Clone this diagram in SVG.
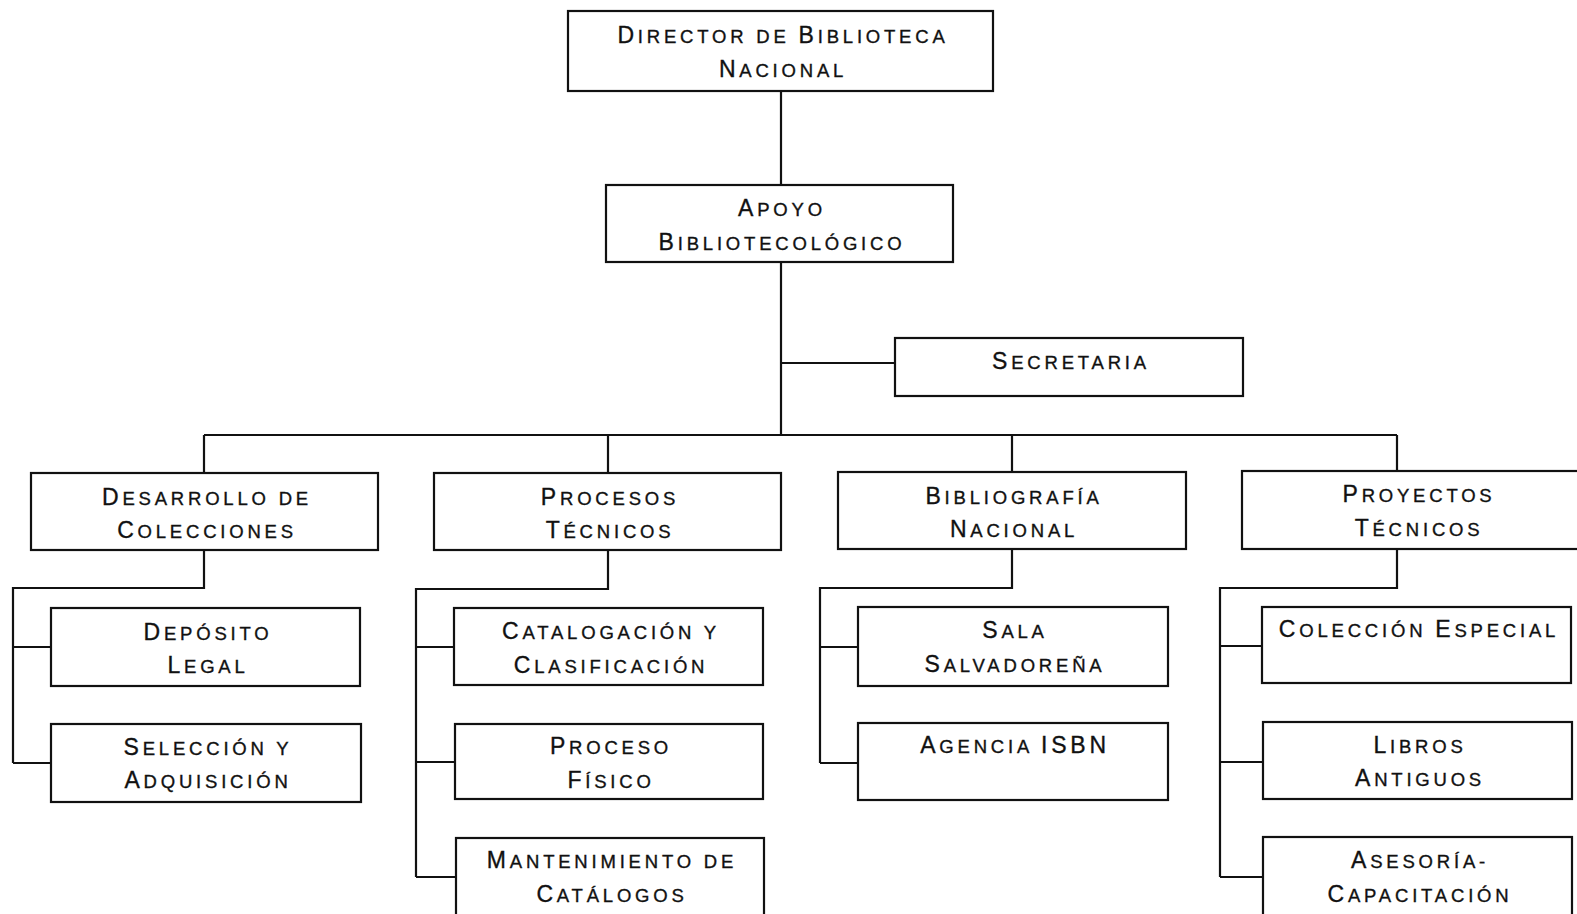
<svg xmlns="http://www.w3.org/2000/svg" width="1577" height="914" viewBox="0 0 1577 914">
<style>
.box{fill:#fff;stroke:#111;stroke-width:2.2}
.lbl{font-family:"Liberation Sans",Arial,sans-serif;font-size:18.5px;letter-spacing:3.8px;text-anchor:middle;fill:#111;stroke:#111;stroke-width:0.35}
.c{font-size:23px}
.con{fill:none;stroke:#111;stroke-width:2.2}
</style>
<rect width="1577" height="914" fill="#fff"/>
<g id="connectors" class="con">
<path d="M781,91V185M781,262V435M781,363H895"/>
<path d="M204,435H1397M204,435V473M608,435V473M1012,435V472M1397,435V471"/>
<path d="M204,550V588H13V763M13,647H51M13,763H51"/>
<path d="M608,550V589H416V877M416,647H454M416,762H455M416,877H456"/>
<path d="M1012,549V588H820V763M820,647H858M820,763H858"/>
<path d="M1397,549V588H1220V877M1220,646H1262M1220,762H1263M1220,877H1263"/>
</g>
<g id="director"><rect class="box" x="568" y="11" width="425" height="80"/><text class="lbl" x="783" y="43"><tspan class="c">D</tspan>IRECTOR DE <tspan class="c">B</tspan>IBLIOTECA</text><text class="lbl" x="783" y="77"><tspan class="c">N</tspan>ACIONAL</text></g>
<g id="apoyo"><rect class="box" x="606" y="185" width="347" height="77"/><text class="lbl" x="782" y="216"><tspan class="c">A</tspan>POYO</text><text class="lbl" x="782" y="250"><tspan class="c">B</tspan>IBLIOTECOLÓGICO</text></g>
<g id="secretaria"><rect class="box" x="895" y="338" width="348" height="58"/><text class="lbl" x="1071" y="369"><tspan class="c">S</tspan>ECRETARIA</text></g>
<g id="desarrollo"><rect class="box" x="31" y="473" width="347" height="77"/><text class="lbl" x="207" y="505"><tspan class="c">D</tspan>ESARROLLO DE</text><text class="lbl" x="207" y="538"><tspan class="c">C</tspan>OLECCIONES</text></g>
<g id="procesos"><rect class="box" x="434" y="473" width="347" height="77"/><text class="lbl" x="610" y="505"><tspan class="c">P</tspan>ROCESOS</text><text class="lbl" x="610" y="538"><tspan class="c">T</tspan>ÉCNICOS</text></g>
<g id="bibliografia"><rect class="box" x="838" y="472" width="348" height="77"/><text class="lbl" x="1014" y="504"><tspan class="c">B</tspan>IBLIOGRAFÍA</text><text class="lbl" x="1014" y="537"><tspan class="c">N</tspan>ACIONAL</text></g>
<g id="proyectos"><rect class="box" x="1242" y="471" width="350" height="78"/><text class="lbl" x="1419" y="502"><tspan class="c">P</tspan>ROYECTOS</text><text class="lbl" x="1419" y="536"><tspan class="c">T</tspan>ÉCNICOS</text></g>
<g id="deposito"><rect class="box" x="51" y="608" width="309" height="78"/><text class="lbl" x="208" y="640"><tspan class="c">D</tspan>EPÓSITO</text><text class="lbl" x="208" y="673"><tspan class="c">L</tspan>EGAL</text></g>
<g id="seleccion"><rect class="box" x="51" y="724" width="310" height="78"/><text class="lbl" x="208" y="755"><tspan class="c">S</tspan>ELECCIÓN Y</text><text class="lbl" x="208" y="788"><tspan class="c">A</tspan>DQUISICIÓN</text></g>
<g id="catalogacion"><rect class="box" x="454" y="608" width="309" height="77"/><text class="lbl" x="611" y="639"><tspan class="c">C</tspan>ATALOGACIÓN Y</text><text class="lbl" x="611" y="673"><tspan class="c">C</tspan>LASIFICACIÓN</text></g>
<g id="proceso-fisico"><rect class="box" x="455" y="724" width="308" height="75"/><text class="lbl" x="611" y="754"><tspan class="c">P</tspan>ROCESO</text><text class="lbl" x="611" y="788"><tspan class="c">F</tspan>ÍSICO</text></g>
<g id="mantenimiento"><rect class="box" x="456" y="838" width="308" height="82"/><text class="lbl" x="612" y="868"><tspan class="c">M</tspan>ANTENIMIENTO DE</text><text class="lbl" x="612" y="902"><tspan class="c">C</tspan>ATÁLOGOS</text></g>
<g id="sala"><rect class="box" x="858" y="607" width="310" height="79"/><text class="lbl" x="1015" y="638"><tspan class="c">S</tspan>ALA</text><text class="lbl" x="1015" y="672"><tspan class="c">S</tspan>ALVADOREÑA</text></g>
<g id="agencia"><rect class="box" x="858" y="723" width="310" height="77"/><text class="lbl" x="1015" y="753"><tspan class="c">A</tspan>GENCIA <tspan class="c">ISBN</tspan></text></g>
<g id="coleccion"><rect class="box" x="1262" y="607" width="309" height="76"/><text class="lbl" x="1419" y="637"><tspan class="c">C</tspan>OLECCIÓN <tspan class="c">E</tspan>SPECIAL</text></g>
<g id="libros"><rect class="box" x="1263" y="722" width="309" height="77"/><text class="lbl" x="1420" y="753"><tspan class="c">L</tspan>IBROS</text><text class="lbl" x="1420" y="786"><tspan class="c">A</tspan>NTIGUOS</text></g>
<g id="asesoria"><rect class="box" x="1263" y="837" width="309" height="83"/><text class="lbl" x="1420" y="868"><tspan class="c">A</tspan>SESORÍA-</text><text class="lbl" x="1420" y="902"><tspan class="c">C</tspan>APACITACIÓN</text></g>
</svg>
